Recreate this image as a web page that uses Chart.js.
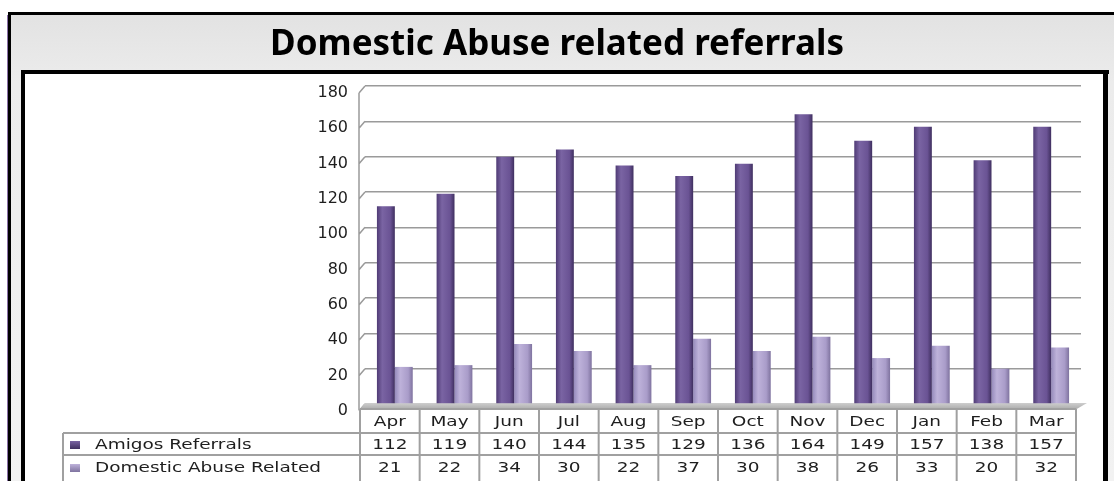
<!DOCTYPE html>
<html>
<head>
<title>Domestic Abuse related referrals</title>
<script src="https://cdn.jsdelivr.net/npm/chart.js@4.4.0/dist/chart.umd.min.js"></script>
<style>
  html, body { margin: 0; padding: 0; background: #fff; }
  #wrap { position: relative; width: 1114px; height: 481px; }
</style>
</head>
<body>
<div id="wrap"><canvas id="refChart" width="1114" height="481"></canvas></div>
<script>
// chart data
var months = ["Apr", "May", "Jun", "Jul", "Aug", "Sep", "Oct", "Nov", "Dec", "Jan", "Feb", "Mar"];
var amigosReferrals = [112, 119, 140, 144, 135, 129, 136, 164, 149, 157, 138, 157];
var domesticAbuse = [21, 22, 34, 30, 22, 37, 30, 38, 26, 33, 20, 32];
var seriesNames = ["Amigos Referrals", "Domestic Abuse Related"];
var yMax = 180;
var yStep = 20;

var CAT_PCT = 0.6;
var DARK = ["#4f3b75", "#7a64a3", "#6a5394", "#3f2f5f"];
var LIGHT = ["#958abb", "#beb2da", "#a99cc9", "#7f739f"];

// cylinder-ish shading across each bar
function barFill(light) {
  var cols = light ? LIGHT : DARK;
  return function (c) {
    var chart = c.chart, xs = chart.scales.x;
    if (!xs || !chart.chartArea || c.dataIndex === undefined) return cols[2];
    var center = xs.getPixelForValue(c.dataIndex);
    var bw = xs.width / months.length * CAT_PCT / 2;
    var x0 = light ? center : center - bw;
    var g = chart.ctx.createLinearGradient(x0, 0, x0 + bw, 0);
    g.addColorStop(0, cols[0]);
    g.addColorStop(0.3, cols[1]);
    g.addColorStop(0.75, cols[2]);
    g.addColorStop(1, cols[3]);
    return g;
  };
}

function stretchText(ctx, txt, x, y, align) {
  ctx.save();
  ctx.translate(x, y);
  ctx.scale(1.32, 1);
  ctx.textAlign = align;
  ctx.textBaseline = "middle";
  ctx.fillText(txt, 0, 0);
  ctx.restore();
}

// frames behind everything
var framePlugin = {
  id: "frames",
  beforeDraw: function (chart) {
    var ctx = chart.ctx;
    ctx.save();
    ctx.fillStyle = "#fff";
    ctx.fillRect(0, 0, chart.width, chart.height);
    var g = ctx.createLinearGradient(0, 13, 0, 481);
    g.addColorStop(0, "#e2e2e2");
    g.addColorStop(0.15, "#ececec");
    g.addColorStop(1, "#f2f2f2");
    ctx.fillStyle = g;
    ctx.fillRect(9, 13, chart.width, chart.height);
    ctx.fillStyle = "#8a70a8";
    ctx.fillRect(7, 15, 1, chart.height);
    ctx.fillStyle = "#000";
    ctx.fillRect(8, 12, chart.width, 3);
    ctx.fillRect(8, 12, 3, chart.height);
    // inner box
    ctx.fillStyle = "#fff";
    ctx.fillRect(21, 70, 1086, chart.height);
    ctx.fillStyle = "#000";
    ctx.fillRect(21, 70, 1088, 4);
    ctx.fillRect(21, 70, 4, chart.height);
    ctx.fillRect(1103, 70, 5, chart.height);
    ctx.restore();
  },
  beforeDatasetsDraw: function (chart) {
    var ctx = chart.ctx, a = chart.chartArea, ys = chart.scales.y;
    ctx.save();
    // left wall
    ctx.strokeStyle = "#9a9a9a";
    ctx.lineWidth = 1.5;
    ctx.beginPath();
    ctx.moveTo(a.left - 6, a.top + 7);
    ctx.lineTo(a.left - 6, a.bottom + 6);
    ys.ticks.forEach(function (t) {
      var y = ys.getPixelForValue(t.value);
      ctx.moveTo(a.left - 6, y + 7);
      ctx.lineTo(a.left, y);
    });
    ctx.stroke();
    // floor
    var fg = ctx.createLinearGradient(0, a.bottom - 3, 0, a.bottom + 6);
    fg.addColorStop(0, "#d8d8d8");
    fg.addColorStop(1, "#a8a8a8");
    ctx.fillStyle = fg;
    ctx.beginPath();
    ctx.moveTo(a.left, a.bottom - 1);
    ctx.lineTo(a.right + 6, a.bottom - 1);
    ctx.lineTo(a.right - 6, a.bottom + 6);
    ctx.lineTo(a.left - 6, a.bottom + 6);
    ctx.closePath();
    ctx.fill();
    ctx.restore();
  }
};

// data table under the plot
var tablePlugin = {
  id: "dataTable",
  afterDraw: function (chart) {
    var ctx = chart.ctx, xs = chart.scales.x, a = chart.chartArea;
    var cw = xs.width / months.length;
    var tLeft = xs.left - 5;
    var tRight = tLeft + cw * months.length;
    var labelLeft = 63;
    var r0 = a.bottom + 5, r1 = r0 + 24, r2 = r1 + 22, r3 = chart.height + 2;
    ctx.save();
    ctx.strokeStyle = "#a0a0a0";
    ctx.lineWidth = 2;
    ctx.beginPath();
    ctx.moveTo(tLeft, r0); ctx.lineTo(tRight, r0);
    ctx.moveTo(labelLeft, r1); ctx.lineTo(tRight, r1);
    ctx.moveTo(labelLeft, r2); ctx.lineTo(tRight, r2);
    ctx.moveTo(labelLeft, r1); ctx.lineTo(labelLeft, r3);
    for (var i = 0; i <= months.length; i++) {
      var x = tLeft + i * cw;
      ctx.moveTo(x, r0); ctx.lineTo(x, r3);
    }
    ctx.stroke();

    ctx.fillStyle = "#1e1e1e";
    ctx.font = "14px 'DejaVu Sans'";
    var rowsMid = [(r0 + r1) / 2 + 1, (r1 + r2) / 2 + 1, (r2 + r2 + 24) / 2 + 1];
    var rowsData = [amigosReferrals, domesticAbuse];
    months.forEach(function (m, i) {
      var cx = tLeft + (i + 0.5) * cw;
      stretchText(ctx, m, cx, rowsMid[0], "center");
      stretchText(ctx, String(rowsData[0][i]), cx, rowsMid[1], "center");
      stretchText(ctx, String(rowsData[1][i]), cx, rowsMid[2], "center");
    });
    // series keys
    [DARK, LIGHT].forEach(function (cols, k) {
      var y = rowsMid[k + 1];
      var g = ctx.createLinearGradient(0, y - 4, 0, y + 4);
      g.addColorStop(0, cols[1]);
      g.addColorStop(1, cols[3]);
      ctx.fillStyle = g;
      ctx.fillRect(70, y - 4, 10, 8);
      ctx.fillStyle = "#1e1e1e";
      stretchText(ctx, seriesNames[k], 95, y, "left");
    });
    ctx.restore();
  }
};

var chart = new Chart(document.getElementById("refChart"), {
  type: "bar",
  data: {
    labels: months,
    datasets: [
      { label: seriesNames[0], data: amigosReferrals, backgroundColor: barFill(false),
        categoryPercentage: CAT_PCT, barPercentage: 1 },
      { label: seriesNames[1], data: domesticAbuse, backgroundColor: barFill(true),
        categoryPercentage: CAT_PCT, barPercentage: 1 }
    ]
  },
  options: {
    responsive: false,
    animation: false,
    devicePixelRatio: 1,
    layout: { padding: { left: 0, right: 0, top: 0, bottom: 77 } },
    plugins: {
      legend: { display: false },
      tooltip: { enabled: false },
      title: {
        display: true,
        text: "Domestic Abuse related referrals",
        color: "#000",
        font: { family: "'Noto Sans'", size: 35, weight: "bold", lineHeight: 1.2 },
        padding: { top: 24, bottom: 20 }
      }
    },
    scales: {
      x: { display: false },
      y: {
        min: 0,
        max: yMax,
        afterFit: function (s) { s.width = 365; },
        border: { display: false },
        grid: { color: "#9a9a9a", lineWidth: 1.5, drawTicks: false },
        ticks: {
          stepSize: yStep,
          padding: 17,
          labelOffset: 7,
          color: "#1e1e1e",
          font: { family: "'DejaVu Sans'", size: 16 }
        }
      },
      // empty right-hand spacer so the title stays centred on the page
      yRight: {
        position: "right",
        display: true,
        min: 0,
        max: yMax,
        afterFit: function (s) { s.width = 33; },
        border: { display: false },
        grid: { display: false },
        ticks: { display: false }
      }
    }
  },
  plugins: [framePlugin, tablePlugin]
});
</script>
</body>
</html>
